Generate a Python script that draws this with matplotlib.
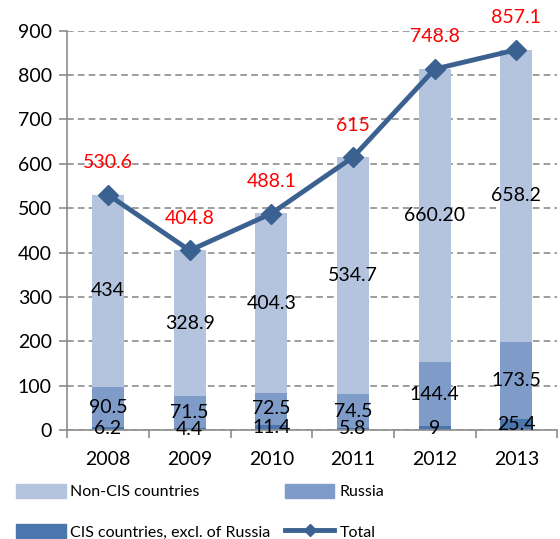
import numpy as np
import matplotlib
matplotlib.use("Agg")
import matplotlib.pyplot as plt
from matplotlib.patches import Patch
from matplotlib.lines import Line2D

plt.rcParams["font.family"] = ["Lato", "DejaVu Sans"]

# ---------------------------------------------------------------------------
# Data
# ---------------------------------------------------------------------------
years = ["2008", "2009", "2010", "2011", "2012", "2013"]
cis_excl_russia = [6.2, 4.4, 11.4, 5.8, 9.0, 25.4]
russia = [90.5, 71.5, 72.5, 74.5, 144.4, 173.5]
non_cis = [434, 328.9, 404.3, 534.7, 660.2, 658.2]
total = [530.6, 404.8, 488.1, 615, 813.6, 857.1]

cis_labels = ["6.2", "4.4", "11.4", "5.8", "9", "25.4"]
russia_labels = ["90.5", "71.5", "72.5", "74.5", "144.4", "173.5"]
non_cis_labels = ["434", "328.9", "404.3", "534.7", "660.20", "658.2"]
total_labels = ["530.6", "404.8", "488.1", "615", "748.8", "857.1"]

C_LIGHT = "#b4c4df"
C_MID = "#7f9cc9"
C_DARK = "#4a75ad"
C_LINE = "#3b6191"

fig = plt.figure(figsize=(5.6, 5.39), dpi=100)
ax = fig.add_axes([0.12, 0.202, 0.875, 0.741])

x = np.arange(len(years))
w = 0.39
b1 = ax.bar(x, cis_excl_russia, w, color=C_DARK, zorder=2)
b2 = ax.bar(x, russia, w, bottom=cis_excl_russia, color=C_MID, zorder=2)
bottom3 = np.array(cis_excl_russia) + np.array(russia)
b3 = ax.bar(x, non_cis, w, bottom=bottom3, color=C_LIGHT, zorder=2)

ax.bar_label(b1, labels=cis_labels, label_type="center", fontsize=14, zorder=5)
ax.bar_label(b2, labels=russia_labels, label_type="center", fontsize=14, zorder=5)
ax.bar_label(b3, labels=non_cis_labels, label_type="center", fontsize=14, zorder=5)

ax.plot(x, total, color=C_LINE, lw=3.5, marker="D", markersize=10, zorder=4)
for xi, v, lab in zip(x, total, total_labels):
    ax.annotate(lab, (xi, v), xytext=(0, 17), textcoords="offset points",
                ha="center", va="bottom", color="red", fontsize=14)

ax.set_xlim(-0.5, len(years) - 0.5)
ax.set_ylim(0, 900)
ax.set_yticks(np.arange(0, 901, 100))
ax.yaxis.grid(True, linestyle=(0, (4, 2.5)), color="#8c8c8c", lw=1.2, zorder=0)
ax.set_axisbelow(True)

ax.set_xticks(x)
ax.set_xticklabels(years)
ax.set_xticks(np.arange(-0.5, len(years)), minor=True)
ax.tick_params(axis="x", which="major", length=0, pad=15, labelsize=14)
ax.tick_params(axis="x", which="minor", length=6, color="#8c8c8c", width=1.2)
ax.tick_params(axis="y", length=6, color="#8c8c8c", width=1.2, labelsize=14, pad=5)

for s in ["top", "right"]:
    ax.spines[s].set_visible(False)
for s in ["left", "bottom"]:
    ax.spines[s].set_color("#8c8c8c")
    ax.spines[s].set_linewidth(1.2)

handles = [
    Patch(color=C_LIGHT, label="Non-CIS countries"),
    Patch(color=C_DARK, label="CIS countries, excl. of Russia"),
    Patch(color=C_MID, label="Russia"),
    Line2D([0], [0], color=C_LINE, lw=3.5, marker="D", markersize=6, label="Total"),
]
fig.legend(handles=handles, ncol=2, loc="lower left", bbox_to_anchor=(0.003, -0.028),
           frameon=False, fontsize=11.5, handlelength=3.1, handleheight=1.0,
           columnspacing=0.9, labelspacing=1.55, handletextpad=0.3)

fig.savefig("out.png", dpi=100)
